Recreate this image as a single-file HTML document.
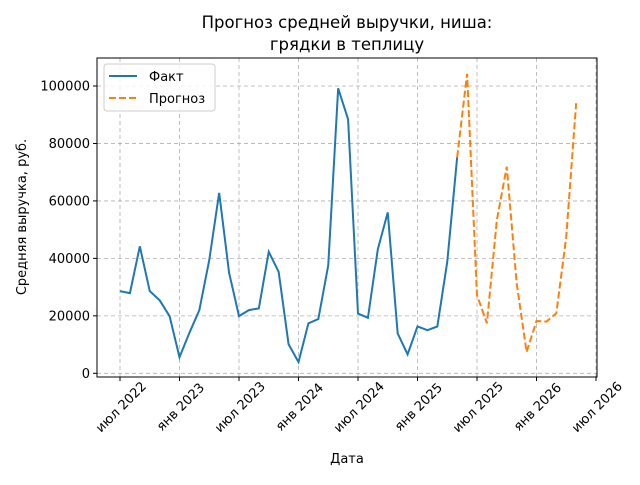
<!DOCTYPE html>
<html><head><meta charset="utf-8"><style>
body{margin:0;background:#fff}
svg text{font-family:"DejaVu Sans","Liberation Sans",sans-serif;fill:#000}
</style></head><body>
<svg id="chart" width="640" height="480" xmlns="http://www.w3.org/2000/svg">
<text x="347" y="28" font-size="16.5" text-anchor="middle">Прогноз средней выручки, ниша:</text>
<text x="347" y="50" font-size="16.5" text-anchor="middle">грядки в теплицу</text>
<g id="grid"></g><g id="axes"></g><g id="series"></g>
<text transform="translate(26,217) rotate(-90)" font-size="13" text-anchor="middle">Средняя выручка, руб.</text>
<text x="347" y="463" font-size="13" text-anchor="middle">Дата</text>
<g>
<rect x="104" y="64" width="111" height="47" rx="3" fill="#fff" fill-opacity="0.8" stroke="#ccc"/>
<line x1="109" y1="76" x2="137" y2="76" stroke="#1f77b4" stroke-width="2"/>
<text x="149" y="81" font-size="13">Факт</text>
<line x1="109" y1="98" x2="137" y2="98" stroke="#ff7f0e" stroke-width="2" stroke-dasharray="7,3"/>
<text x="149" y="103" font-size="13">Прогноз</text>
</g>
</svg>
<script>
const factValues=[28600,27900,44200,28600,25400,19900,5600,14100,22000,39400,62800,35000,19900,22000,22600,42300,35300,10100,3900,17400,18900,37600,99200,88400,20800,19300,43200,56000,13900,6600,16300,15000,16300,38800,75200];
const forecastValues=[75200,104200,27200,17400,53300,71900,31400,7400,18200,18000,20900,47500,94000];
const forecastStart=34;
const yTicks=[0,20000,40000,60000,80000,100000];
const xTickLabels=["июл 2022","янв 2023","июл 2023","янв 2024","июл 2024","янв 2025","июл 2025","янв 2026","июл 2026"];
const xTickMonths=[0,6,12,18,24,30,36,42,48];
const L=97,R=597,T=58,B=377;
const x=m=>120+m*(477-120)/36;
const y=v=>373.3-v*(373.3-86)/100000;
const NS="http://www.w3.org/2000/svg";
function mk(tag,attrs,parent){const e=document.createElementNS(NS,tag);for(const k in attrs)e.setAttribute(k,attrs[k]);parent.appendChild(e);return e;}
const grid=document.getElementById('grid'),axes=document.getElementById('axes'),ser=document.getElementById('series');
yTicks.forEach(v=>{
 const g=mk('line',{x1:L,x2:R,y1:y(v),y2:y(v),stroke:'#b0b0b0','stroke-dasharray':'4,3','stroke-width':0.8},grid);
 
 
 mk('line',{x1:L-4,x2:L,y1:y(v),y2:y(v),stroke:'#000'},axes);
 const t=mk('text',{x:L-7,y:y(v)+4.5,'font-size':13,'text-anchor':'end'},axes);
 t.textContent=v;
 
 
});
xTickMonths.forEach((m,i)=>{
 const g=mk('line',{x1:x(m),x2:x(m),y1:T,y2:B,stroke:'#b0b0b0','stroke-dasharray':'4,3','stroke-width':0.8},grid);
 
 
 mk('line',{x1:x(m),x2:x(m),y1:B,y2:B+4,stroke:'#000'},axes);
 const t=mk('text',{transform:`translate(${x(m)+4},${B+33}) rotate(-45)`,'font-size':13,'text-anchor':'middle'},axes);
 t.textContent=xTickLabels[i];
 
 
});
const fr=mk('rect',{x:L,y:T,width:R-L,height:B-T,fill:'none',stroke:'#000','stroke-width':1},axes);


const p1=mk('polyline',{points:factValues.map((v,i)=>x(i)+','+y(v)).join(' '),fill:'none',stroke:'#1f77b4','stroke-width':2},ser);


const p2=mk('polyline',{points:forecastValues.map((v,i)=>x(i+forecastStart)+','+y(v)).join(' '),fill:'none',stroke:'#ff7f0e','stroke-width':2,'stroke-dasharray':'7,3'},ser);


</script>
</body></html>
